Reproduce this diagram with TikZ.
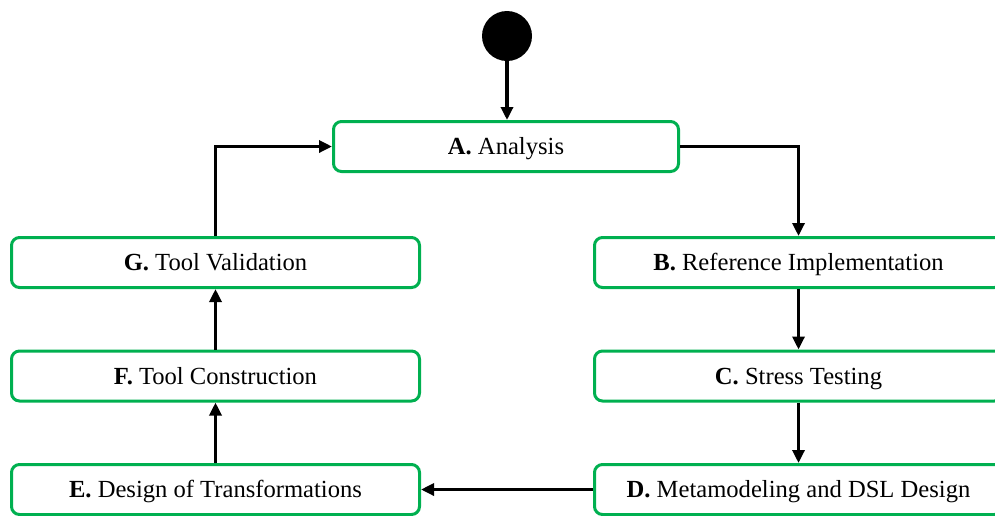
\documentclass[tikz,border=0pt]{standalone}
\usepackage{fontspec}
\setmainfont{Liberation Serif}
\usetikzlibrary{arrows.meta}
\definecolor{stepgreen}{RGB}{0,176,80}
\begin{document}
\begin{tikzpicture}[x=1pt,y=-1pt,
  stepbox/.style={draw=stepgreen, line width=3pt, rounded corners=8pt,
    fill=white, minimum height=50pt, inner sep=0pt,
    text height=16pt, text depth=0pt,
    font=\fontsize{24.6}{29}\selectfont},
  flow/.style={line width=3.2pt, -{Triangle[length=13pt,width=12pt]}},
  startdot/.style={circle, fill=black, minimum size=50pt, inner sep=0pt}]
\useasboundingbox (0,0) rectangle (995,515);
\clip (0,0) rectangle (995,515);
% initial state
\node[startdot] (start) at (507,36) {};
% process steps
\node[stepbox, minimum width=345pt] (A) at (506,146.5) {\textbf{A.} Analysis};
\node[stepbox, minimum width=408pt] (B) at (798.5,262.5) {\textbf{B.} Reference Implementation};
\node[stepbox, minimum width=408pt] (C) at (798.5,376) {\textbf{C.} Stress Testing};
\node[stepbox, minimum width=408pt] (D) at (798.5,489.5) {\textbf{D.} Metamodeling and DSL Design};
\node[stepbox, minimum width=408pt] (E) at (215.5,489.5) {\textbf{E.} Design of Transformations};
\node[stepbox, minimum width=408pt] (F) at (215.5,376) {\textbf{F.} Tool Construction};
\node[stepbox, minimum width=408pt] (G) at (215.5,262.5) {\textbf{G.} Tool Validation};
% transitions
\draw[flow] (start.south) -- (start.south |- A.north);
\draw[flow] (A.east) -| (B.north);
\draw[flow] (B) -- (C);
\draw[flow] (C) -- (D);
\draw[flow] (D) -- (E);
\draw[flow] (E) -- (F);
\draw[flow] (F) -- (G);
\draw[flow] (G.north) |- (A.west);
\end{tikzpicture}
\end{document}
